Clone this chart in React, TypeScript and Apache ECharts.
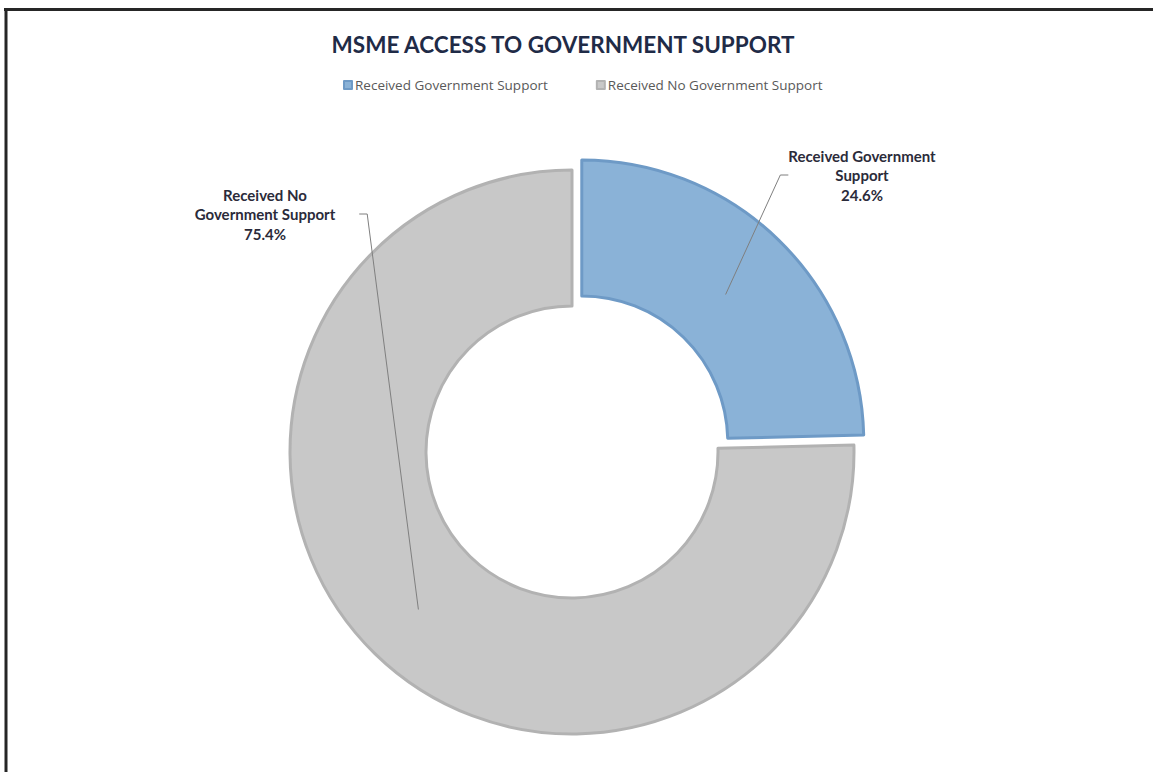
import React, { useEffect, useRef } from "react";
import * as echarts from "echarts";

const categories = ["Received Government Support", "Received No Government Support"];
const shares = [24.6, 75.4];
const labelTexts = ["Received Government\nSupport", "Received No\nGovernment Support"];
const colors = ["#8AB2D7", "#C8C8C8"];
const borderColors = ["#6E9AC6", "#B2B2B2"];
// label centre positions and an invisible left padding that steers the leader line
const labelPositions = [
  { x: 862, y: 175, padLeft: 0 },
  { x: 165, y: 214, padLeft: 200 },
];

export default function App() {
  const ref = useRef<HTMLDivElement>(null);
  useEffect(() => {
    if (!ref.current) return;
    const chart = echarts.init(ref.current, null, { renderer: "svg" });
    const center = [572, 452];
    const data = categories.map((name, i) => ({
      name,
      value: shares[i],
      selected: i === 0,
      itemStyle: { color: colors[i], borderColor: borderColors[i], borderWidth: 3 },
    }));
    const labelData = categories.map((name, i) => ({
      name,
      value: shares[i],
      label: {
        formatter: labelTexts[i] + "\n" + shares[i].toFixed(1) + "%",
        padding: [0, 0, 0, labelPositions[i].padLeft],
      },
    }));
    chart.setOption({
      animation: false,
      backgroundColor: "#ffffff",
      title: {
        text: "MSME ACCESS TO GOVERNMENT SUPPORT",
        left: 558,
        textAlign: "center",
        top: 28,
        textStyle: { fontFamily: "Lato", fontSize: 22.5, fontWeight: "bold", color: "#1F2B47" },
      },
      legend: {
        data: categories,
        top: 73,
        left: 338,
        icon: "rect",
        itemWidth: 8,
        itemHeight: 8,
        itemGap: 48,
        selectedMode: false,
        textStyle: { fontFamily: "Open Sans", fontSize: 13.5, color: "#595959", padding: [0, 0, 0, -2] },
      },
      graphic: [
        { type: "line", shape: { x1: 4, y1: 9.5, x2: 1153, y2: 9.5 }, style: { stroke: "#262626", lineWidth: 3 } },
        { type: "line", shape: { x1: 6, y1: 8, x2: 6, y2: 772 }, style: { stroke: "#262626", lineWidth: 3 } },
      ],
      series: [
        {
          type: "pie",
          name: "ring",
          center,
          radius: [146, 282],
          startAngle: 90,
          clockwise: true,
          selectedMode: "single",
          selectedOffset: 14,
          silent: true,
          label: { show: false },
          labelLine: { show: false },
          data,
        },
        {
          type: "pie",
          name: "labels",
          center,
          radius: [0, 220],
          startAngle: 90,
          clockwise: true,
          selectedMode: false,
          silent: true,
          z: 5,
          itemStyle: { color: "rgba(0,0,0,0)", borderWidth: 0 },
          label: {
            show: true,
            position: "outside",
            fontFamily: "Lato",
            fontWeight: "bold",
            fontSize: 15,
            lineHeight: 19.5,
            color: "#2B2B3A",
            align: "center",
          },
          labelLine: {
            show: true,
            length: 10,
            length2: 8,
            smooth: false,
            lineStyle: { color: "#7F7F7F", width: 1 },
          },
          labelLayout: (params: any) => {
            const p = labelPositions[params.dataIndex];
            return { x: p.x, y: p.y, align: "center", verticalAlign: "middle" };
          },
          data: labelData,
        },
      ],
    });
    return () => chart.dispose();
  }, []);
  return (
    <div
      ref={ref}
      style={{ position: "fixed", left: 0, top: 0, width: 1153, height: 772, background: "#fff" }}
    />
  );
}
